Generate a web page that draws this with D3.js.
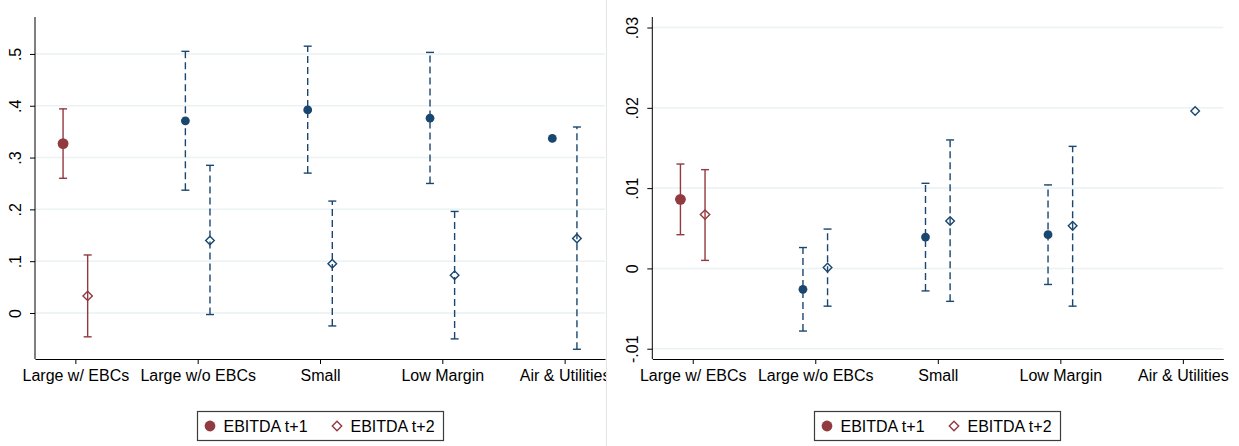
<!DOCTYPE html>
<html>
<head>
<meta charset="utf-8">
<script src="https://cdn.jsdelivr.net/npm/d3@7"></script>
<style>
  body { margin: 0; background: #fff; }
  svg { display: block; font-family: "Liberation Sans", Arial, sans-serif; }
</style>
</head>
<body>
<svg id="chart" width="1239" height="446"></svg>
<script>
const categories = ['Large w/ EBCs', 'Large w/o EBCs', 'Small', 'Low Margin', 'Air & Utilities'];
const seriesNames = ['EBITDA t+1', 'EBITDA t+2'];

// left panel
const leftT1 = [0.327, 0.371, 0.392, 0.376, 0.337];
const leftT1Lo = [0.260, 0.237, 0.270, 0.250, null];
const leftT1Hi = [0.394, 0.505, 0.515, 0.503, null];
const leftT2 = [0.033, 0.140, 0.095, 0.073, 0.144];
const leftT2Lo = [-0.046, -0.003, -0.025, -0.050, -0.070];
const leftT2Hi = [0.112, 0.285, 0.216, 0.196, 0.359];
const leftTicks = [0, 0.1, 0.2, 0.3, 0.4, 0.5];

// right panel
const rightT1 = [0.0086, -0.0026, 0.0039, 0.0042, null];
const rightT1Lo = [0.0042, -0.0078, -0.0028, -0.0020, null];
const rightT1Hi = [0.0130, 0.0026, 0.0106, 0.0104, null];
const rightT2 = [0.0067, 0.0001, 0.0059, 0.0053, 0.0196];
const rightT2Lo = [0.0010, -0.0047, -0.0041, -0.0047, null];
const rightT2Hi = [0.0123, 0.0049, 0.0160, 0.0152, null];
const rightTicks = [-0.01, 0, 0.01, 0.02, 0.03];

const maroon = '#913a40';
const navy = '#1a476f';
const gridColor = '#eaf2f3';

const svg = d3.select('#chart');

function fmtTick(d) {
    if (d === 0) return '0';
    return String(+d.toFixed(4)).replace(/^(-?)0\./, '$1.');
}

function drawPanel(opts) {
    const g = svg.append('g');
    if (opts.clip) {
        svg.append('clipPath')
            .attr('id', opts.clip.id)
            .append('rect')
            .attr('x', opts.clip.x)
            .attr('y', 0)
            .attr('width', opts.clip.w)
            .attr('height', 446);
        g.attr('clip-path', `url(#${opts.clip.id})`);
    }
    const xScale = d3.scalePoint()
        .domain(categories)
        .range([opts.left, opts.right])
        .padding(0.33);
    const yScale = d3.scaleLinear()
        .domain(opts.yDomain)
        .range([opts.bottom, opts.top]);

    // gridlines
    g.append('g')
        .selectAll('line')
        .data(opts.ticks)
        .enter()
        .append('line')
        .attr('x1', opts.left)
        .attr('x2', opts.right)
        .attr('y1', d => yScale(d))
        .attr('y2', d => yScale(d))
        .style('stroke', gridColor)
        .style('stroke-width', 1.5);

    const yAxis = d3.axisLeft(yScale)
        .tickValues(opts.ticks)
        .tickFormat(fmtTick)
        .tickSizeInner(5)
        .tickSizeOuter(0);
    const yAxisDraw = g.append('g')
        .attr('transform', `translate(${opts.left},0)`)
        .call(yAxis);
    yAxisDraw.select('.domain')
        .attr('d', `M0,${opts.top}V${opts.bottom}`);
    yAxisDraw.selectAll('text')
        .attr('transform', 'rotate(-90)')
        .attr('x', 0)
        .attr('y', -14)
        .attr('dy', 0)
        .attr('text-anchor', 'middle')
        .style('font-size', '16px')
        .style('fill', '#000');

    const xAxis = d3.axisBottom(xScale)
        .tickSizeInner(5)
        .tickSizeOuter(0)
        .tickPadding(6);
    const xAxisDraw = g.append('g')
        .attr('transform', `translate(0,${opts.bottom})`)
        .call(xAxis);
    xAxisDraw.selectAll('text')
        .style('font-size', '16px')
        .style('fill', '#000');
    g.selectAll('.domain, .tick line').style('stroke', '#000');

    const off = 12.3;
    const series = [
        { est: opts.t1, lo: opts.t1Lo, hi: opts.t1Hi, dx: -off, shape: 'circle' },
        { est: opts.t2, lo: opts.t2Lo, hi: opts.t2Hi, dx: off, shape: 'diamond' }
    ];

    series.forEach(s => {
        const rows = categories.map((c, i) => ({
            cat: c, i: i, est: s.est[i], lo: s.lo[i], hi: s.hi[i]
        }));
        const color = d => d.i === 0 ? maroon : navy;
        const px = d => xScale(d.cat) + s.dx;

        const withCi = rows.filter(d => d.lo !== null && d.hi !== null);
        g.selectAll(null)
            .data(withCi)
            .enter()
            .append('line')
            .attr('x1', px).attr('x2', px)
            .attr('y1', d => yScale(d.lo))
            .attr('y2', d => yScale(d.hi))
            .style('stroke', color)
            .style('stroke-width', 1.4)
            .style('stroke-dasharray', d => d.i === 0 ? null : '7,4');
        ['lo', 'hi'].forEach(k => {
            g.selectAll(null)
                .data(withCi)
                .enter()
                .append('line')
                .attr('x1', d => px(d) - 4)
                .attr('x2', d => px(d) + 4)
                .attr('y1', d => yScale(d[k]))
                .attr('y2', d => yScale(d[k]))
                .style('stroke', color)
                .style('stroke-width', 1.4);
        });

        const pts = rows.filter(d => d.est !== null);
        if (s.shape === 'circle') {
            g.selectAll(null)
                .data(pts)
                .enter()
                .append('circle')
                .attr('cx', px)
                .attr('cy', d => yScale(d.est))
                .attr('r', d => d.i === 0 ? 5.4 : 4.4)
                .style('fill', color);
        } else {
            g.selectAll(null)
                .data(pts)
                .enter()
                .append('path')
                .attr('d', d => {
                    const r = d.i === 0 ? 4.7 : 4.3;
                    return `M0,${-r}L${r},0L0,${r}L${-r},0Z`;
                })
                .attr('transform', d => `translate(${px(d)},${yScale(d.est)})`)
                .style('fill', 'none')
                .style('stroke', color)
                .style('stroke-width', 1.4);
        }
    });

    // legend
    const lg = g.append('g')
        .attr('transform', `translate(${opts.legendX},411.5)`);
    lg.append('rect')
        .attr('width', 246)
        .attr('height', 29)
        .style('fill', '#fff')
        .style('stroke', '#3c3c3c')
        .style('stroke-width', 1.2);
    lg.append('circle')
        .attr('cx', 12.5)
        .attr('cy', 14.5)
        .attr('r', 5.4)
        .style('fill', maroon);
    lg.append('text')
        .attr('x', 26)
        .attr('y', 20.3)
        .style('font-size', '16px')
        .text(seriesNames[0]);
    lg.append('path')
        .attr('d', 'M0,-4.7L4.7,0L0,4.7L-4.7,0Z')
        .attr('transform', 'translate(139.5,14.5)')
        .style('fill', 'none')
        .style('stroke', maroon)
        .style('stroke-width', 1.4);
    lg.append('text')
        .attr('x', 153)
        .attr('y', 20.3)
        .style('font-size', '16px')
        .text(seriesNames[1]);
}

drawPanel({
    left: 35, right: 605, top: 17, bottom: 359,
    yDomain: [-0.0888, 0.5713],
    ticks: leftTicks,
    t1: leftT1, t1Lo: leftT1Lo, t1Hi: leftT1Hi,
    t2: leftT2, t2Lo: leftT2Lo, t2Hi: leftT2Hi,
    legendX: 197.5,
    clip: { id: 'clip-left', x: 0, w: 606 }
});

drawPanel({
    left: 652.3, right: 1223.3, top: 17, bottom: 359,
    yDomain: [-0.01128, 0.03131],
    ticks: rightTicks,
    t1: rightT1, t1Lo: rightT1Lo, t1Hi: rightT1Hi,
    t2: rightT2, t2Lo: rightT2Lo, t2Hi: rightT2Hi,
    legendX: 814.5
});

// panel separator
svg.append('line')
    .attr('x1', 606.5).attr('x2', 606.5)
    .attr('y1', 0).attr('y2', 446)
    .style('stroke', '#e4e4e4')
    .style('stroke-width', 1);
</script>
</body>
</html>
